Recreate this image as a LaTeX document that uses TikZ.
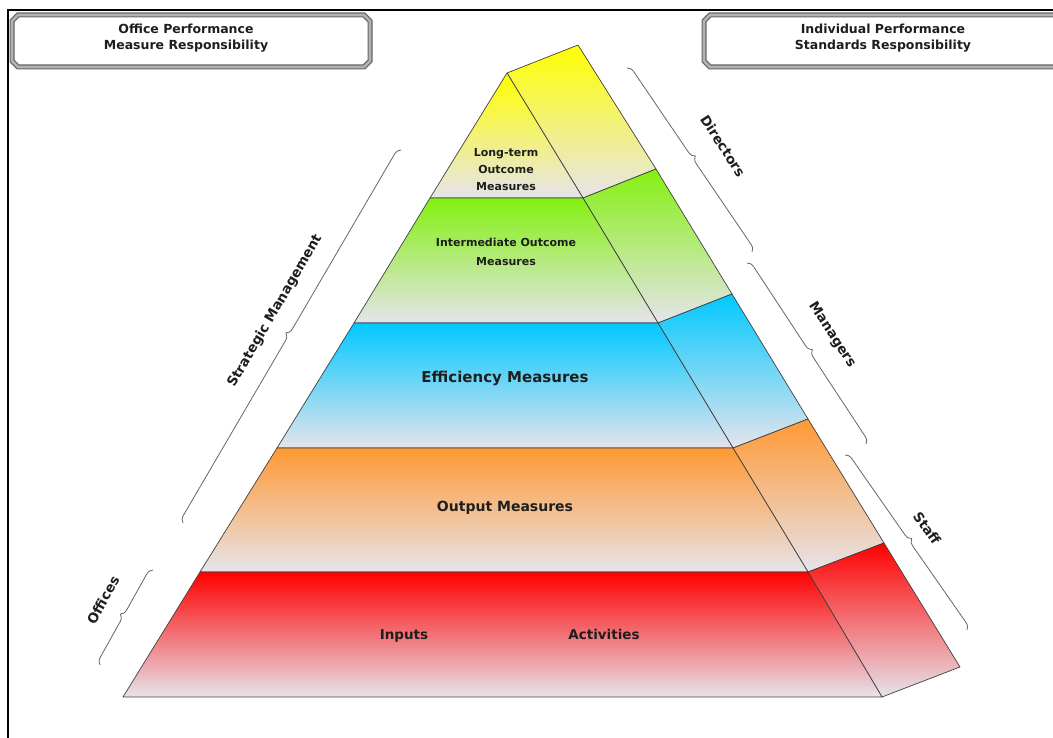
\documentclass[tikz,border=0pt]{standalone}
\usepackage{fontspec}
\setmainfont{DejaVu Sans}
\usetikzlibrary{decorations.pathreplacing}
\definecolor{fadegray}{HTML}{E6E4EC}
\definecolor{ylw}{HTML}{FFFF00}
\definecolor{grn}{HTML}{84F010}
\definecolor{blu}{HTML}{00C8FF}
\definecolor{org}{HTML}{FF9933}
\definecolor{rd}{HTML}{FF0000}
\definecolor{txt}{HTML}{1E1E1E}
\begin{document}
\begin{tikzpicture}[x=1pt,y=-1pt,
  band/.style={draw=black!75, line width=0.7pt, line join=round},
  boxframe/.style={draw=black!60, line width=1.2pt, double=black!30, double distance=2.6pt, fill=white},
  boxtext/.style={align=center, text=txt, font=\bfseries\fontsize{12.5}{16.5}\selectfont},
  lbl/.style={align=center, text=txt},
  sidelbl/.style={text=txt, font=\bfseries\fontsize{13.5}{16}\selectfont},
  bracestyle/.style={draw=black!60, line width=0.8pt, decorate, decoration={brace, amplitude=7pt}}
]
\useasboundingbox (0,0) rectangle (1053,738);
\clip (0,0) rectangle (1053,738);
\fill[white] (0,0) rectangle (1053,738);

% frame
\coordinate (fTL) at (8,10);
\coordinate (fTR) at (1060,10);
\coordinate (fBL) at (8,745);
\draw[line width=2pt] (fTR) -- (fTL) -- (fBL);

% header boxes
\draw[boxframe] (18,15) -- (364,15) -- (370,21) -- (370,61) -- (364,67) -- (18,67) -- (12,61) -- (12,21) -- cycle;
\node[boxtext] (offbox) at (186,38) {Office Performance\\Measure Responsibility};
\draw[boxframe] (710,15) -- (1064,15) -- (1070,21) -- (1070,61) -- (1064,67) -- (710,67) -- (704,61) -- (704,21) -- cycle;
\node[boxtext] (indbox) at (883,38) {Individual Performance\\Standards Responsibility};

% pyramid coordinates
\coordinate (F0) at (507,73);
\coordinate (L1) at (430,198); \coordinate (R1) at (583,198);
\coordinate (L2) at (354,323); \coordinate (R2) at (658,323);
\coordinate (L3) at (277,448); \coordinate (R3) at (733,448);
\coordinate (L4) at (200,572); \coordinate (R4) at (808,572);
\coordinate (L5) at (123,697); \coordinate (R5) at (882,697);
\coordinate (B0) at (578,45);
\coordinate (B1) at (656,169);
\coordinate (B2) at (732,294);
\coordinate (B3) at (808,419);
\coordinate (B4) at (884,543);
\coordinate (B5) at (960,667);

% side faces
\shade[top color=ylw, bottom color=fadegray, band] (F0) -- (B0) -- (B1) -- (R1) -- cycle;
\shade[top color=grn, bottom color=fadegray, band] (R1) -- (B1) -- (B2) -- (R2) -- cycle;
\shade[top color=blu, bottom color=fadegray, band] (R2) -- (B2) -- (B3) -- (R3) -- cycle;
\shade[top color=org, bottom color=fadegray, band] (R3) -- (B3) -- (B4) -- (R4) -- cycle;
\shade[top color=rd, bottom color=fadegray, band] (R4) -- (B4) -- (B5) -- (R5) -- cycle;

% front bands
\shade[top color=ylw, bottom color=fadegray, band] (F0) -- (R1) -- (L1) -- cycle;
\shade[top color=grn, bottom color=fadegray, band] (L1) -- (R1) -- (R2) -- (L2) -- cycle;
\shade[top color=blu, bottom color=fadegray, band] (L2) -- (R2) -- (R3) -- (L3) -- cycle;
\shade[top color=org, bottom color=fadegray, band] (L3) -- (R3) -- (R4) -- (L4) -- cycle;
\shade[top color=rd, bottom color=fadegray, band] (L4) -- (R4) -- (R5) -- (L5) -- cycle;

% band labels
\node[lbl, font=\bfseries\fontsize{11}{17}\selectfont] (ltom) at (506,170) {Long-term\\Outcome\\Measures};
\node[lbl, font=\bfseries\fontsize{11}{18.5}\selectfont] (iom) at (506,252) {Intermediate Outcome\\Measures};
\node[lbl, font=\bfseries\fontsize{15}{18}\selectfont] (effm) at (505,378) {Efficiency Measures};
\node[lbl, font=\bfseries\fontsize{14}{17}\selectfont] (outm) at (505,508) {Output Measures};
\node[lbl, anchor=base, font=\bfseries\fontsize{13.5}{16}\selectfont] (inp) at (404,639) {Inputs};
\node[lbl, anchor=base, font=\bfseries\fontsize{13.5}{16}\selectfont] (act) at (604,639) {Activities};

% braces
\coordinate (smA) at (183,523); \coordinate (smB) at (401,150);
\coordinate (ofA) at (100,665); \coordinate (ofB) at (153,570);
\coordinate (diA) at (627,68);  \coordinate (diB) at (752,252);
\coordinate (maA) at (747,263); \coordinate (maB) at (866,444);
\coordinate (stA) at (845,455); \coordinate (stB) at (967,630);
\draw[bracestyle] (smA) -- (smB);
\draw[bracestyle] (ofA) -- (ofB);
\draw[bracestyle] (diA) -- (diB);
\draw[bracestyle] (maA) -- (maB);
\draw[bracestyle] (stA) -- (stB);

\node[sidelbl, rotate=59.8] (smlbl) at (275,311) {Strategic Management};
\node[sidelbl, rotate=60.8] (oflbl) at (103,600) {Offices};
\node[sidelbl, rotate=-57] (dilbl) at (723,146) {Directors};
\node[sidelbl, rotate=-57] (malbl) at (832,335) {Managers};
\node[sidelbl, rotate=-55] (stlbl) at (927,528) {Staff};
\end{tikzpicture}
\end{document}
